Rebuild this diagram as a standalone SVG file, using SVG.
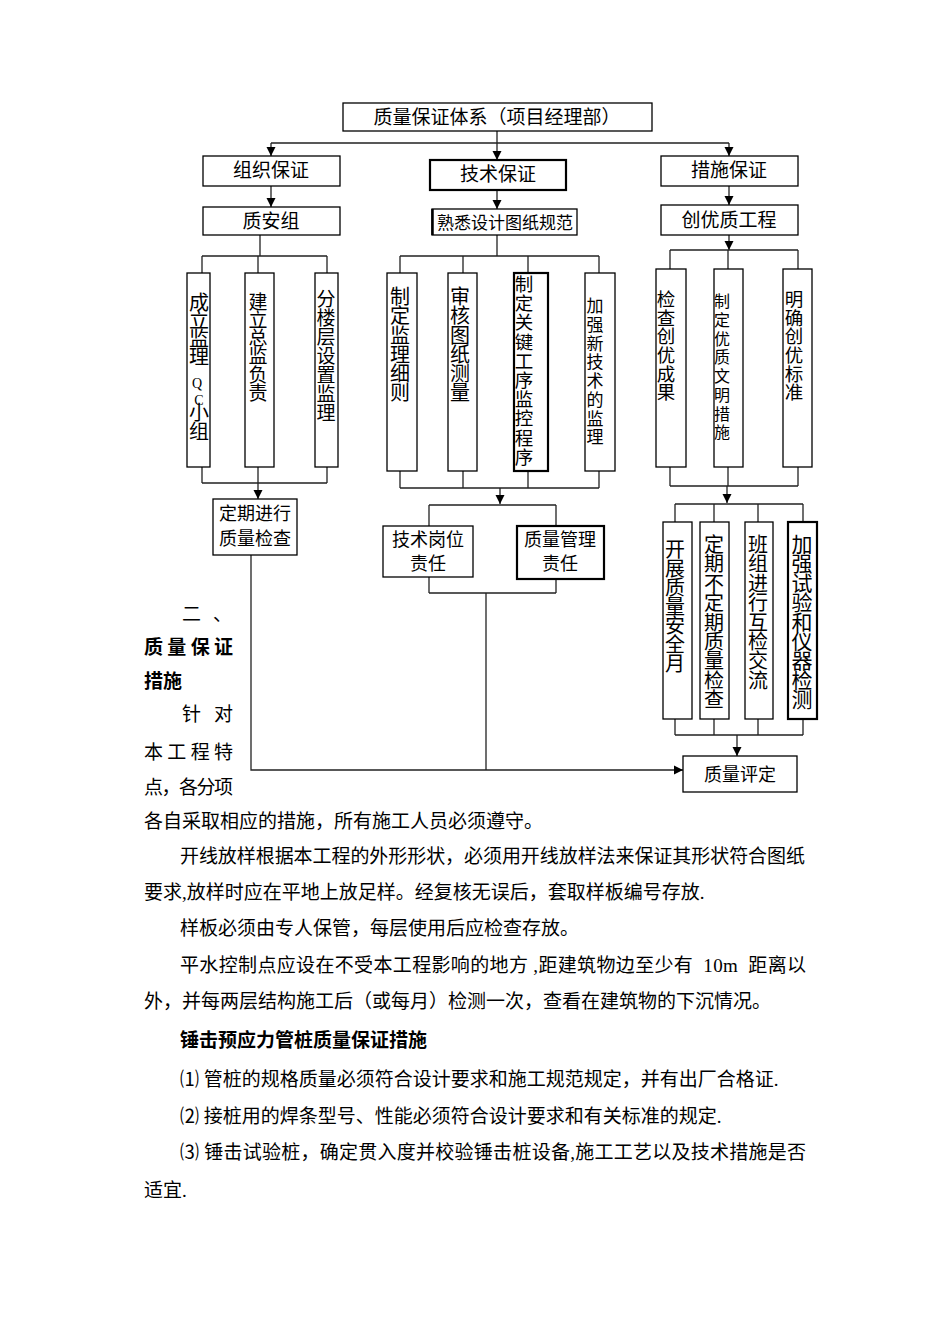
<svg xmlns="http://www.w3.org/2000/svg" width="950" height="1344" viewBox="0 0 950 1344">
<style>
.box{fill:#fff;stroke:#000;stroke-width:1.3}
.thick{fill:#fff;stroke:#000;stroke-width:2.2}
.ln{fill:none;stroke:#222;stroke-width:1.3}
.t{font-family:"Liberation Serif","Noto Sans CJK SC",serif;fill:#000}
.c{text-anchor:middle}
.b{font-weight:bold}
</style>
<defs>
<marker id="ar" markerUnits="userSpaceOnUse" markerWidth="10" markerHeight="10" refX="9" refY="5" orient="auto">
<path d="M0,0.5 L9,5 L0,9.5 Z" fill="#000"/>
</marker>
</defs>
<rect width="950" height="1344" fill="#fff"/>

<g id="connectors">
<path class="ln" d="M497,131 V143 M271,143 H729"/>
<path class="ln" d="M271,143 V156" marker-end="url(#ar)"/>
<path class="ln" d="M497,143 V160" marker-end="url(#ar)"/>
<path class="ln" d="M729,143 V156" marker-end="url(#ar)"/>
<path class="ln" d="M271,186 V207" marker-end="url(#ar)"/>
<path class="ln" d="M497,190 V209" marker-end="url(#ar)"/>
<path class="ln" d="M729,186 V205" marker-end="url(#ar)"/>
<path class="ln" d="M260,235 V256 M202,256 H327 M202,256 V273 M258,256 V273 M327,256 V273"/>
<path class="ln" d="M202,467 V483 M258,467 V483 M327,467 V483 M202,483 H327"/>
<path class="ln" d="M258,483 V499" marker-end="url(#ar)"/>
<path class="ln" d="M497,235 V256 M400,256 H599 M400,256 V273 M463,256 V273 M528,256 V273 M599,256 V273"/>
<path class="ln" d="M400,471 V488 M463,471 V488 M528,471 V488 M599,471 V488 M400,488 H599"/>
<path class="ln" d="M500,488 V504" marker-end="url(#ar)"/>
<path class="ln" d="M429,505 H556 M429,505 V526 M556,505 V526"/>
<path class="ln" d="M429,577 V593 M556,579 V593 M429,593 H556 M486,593 V770"/>
<path class="ln" d="M729,235 V250" marker-end="url(#ar)"/>
<path class="ln" d="M670,250 H798 M670,250 V269 M728,250 V269 M798,250 V269"/>
<path class="ln" d="M670,467 V486 M728,467 V486 M798,467 V486 M670,486 H798"/>
<path class="ln" d="M727,486 V503" marker-end="url(#ar)"/>
<path class="ln" d="M675,504 H803 M675,504 V522 M714,504 V522 M758,504 V522 M803,504 V522"/>
<path class="ln" d="M675,719 V735 M714,719 V735 M758,719 V735 M803,719 V735 M675,735 H803"/>
<path class="ln" d="M737,735 V756" marker-end="url(#ar)"/>
<path class="ln" d="M251,555 V770 H683" marker-end="url(#ar)"/>
</g>

<g id="n-top"><rect class="box" x="343" y="103" width="309" height="28"/><text class="t c" x="497" y="124" font-size="19">质量保证体系（项目经理部）</text></g>
<g id="n-zuzhi"><rect class="box" x="203" y="156" width="137" height="30"/><text class="t c" x="271" y="177" font-size="19">组织保证</text></g>
<g id="n-jishu"><rect class="thick" x="430" y="160" width="136" height="30"/><text class="t c" x="498" y="181" font-size="19">技术保证</text></g>
<g id="n-cuoshi"><rect class="box" x="661" y="156" width="137" height="30"/><text class="t c" x="729" y="177" font-size="19">措施保证</text></g>
<g id="n-zhianzu"><rect class="box" x="203" y="207" width="137" height="28"/><text class="t c" x="271" y="228" font-size="19">质安组</text></g>
<g id="n-shuxi"><rect class="box" x="432" y="209" width="145" height="26"/><path d="M432.5,209 V235" stroke="#000" stroke-width="2.5"/><text class="t c" x="505" y="229" font-size="17">熟悉设计图纸规范</text></g>
<g id="n-chuangyou"><rect class="box" x="661" y="205" width="137" height="30"/><text class="t c" x="729" y="227" font-size="19">创优质工程</text></g>

<g id="n-a1"><rect class="box" x="187" y="273" width="23" height="194"/>
<text class="t c" font-size="20"><tspan x="199" y="310">成</tspan><tspan x="199" y="328">立</tspan><tspan x="199" y="346">监</tspan><tspan x="199" y="364">理</tspan><tspan x="197" y="388" font-size="14">Q</tspan><tspan x="199" y="405" font-size="14">C</tspan><tspan x="199" y="420">小</tspan><tspan x="199" y="439">组</tspan></text></g>
<g id="n-a2"><rect class="box" x="245" y="273" width="29" height="194"/>
<text class="t c" font-size="19"><tspan x="258" y="309">建</tspan><tspan x="258" y="327">立</tspan><tspan x="258" y="345">总</tspan><tspan x="258" y="363">监</tspan><tspan x="258" y="382">负</tspan><tspan x="258" y="400">责</tspan></text></g>
<g id="n-a3"><rect class="box" x="315" y="273" width="23" height="194"/>
<text class="t c" font-size="19"><tspan x="326" y="306">分</tspan><tspan x="326" y="325">楼</tspan><tspan x="326" y="344">层</tspan><tspan x="326" y="363">设</tspan><tspan x="326" y="382">置</tspan><tspan x="326" y="401">监</tspan><tspan x="326" y="420">理</tspan></text></g>

<g id="n-b1"><rect class="box" x="387" y="273" width="30" height="198"/>
<text class="t c" font-size="20"><tspan x="400" y="304">制</tspan><tspan x="400" y="323">定</tspan><tspan x="400" y="343">监</tspan><tspan x="400" y="362">理</tspan><tspan x="400" y="381">细</tspan><tspan x="400" y="400">则</tspan></text></g>
<g id="n-b2"><rect class="box" x="448" y="273" width="29" height="198"/>
<text class="t c" font-size="20"><tspan x="460" y="304">审</tspan><tspan x="460" y="323">核</tspan><tspan x="460" y="343">图</tspan><tspan x="460" y="362">纸</tspan><tspan x="460" y="381">测</tspan><tspan x="460" y="400">量</tspan></text></g>
<g id="n-b3"><rect class="thick" x="514" y="273" width="34" height="198"/>
<text class="t c" font-size="18.5"><tspan x="524" y="291">制</tspan><tspan x="524" y="310">定</tspan><tspan x="524" y="329">关</tspan><tspan x="524" y="349">键</tspan><tspan x="524" y="368">工</tspan><tspan x="524" y="387">序</tspan><tspan x="524" y="406">监</tspan><tspan x="524" y="425">控</tspan><tspan x="524" y="445">程</tspan><tspan x="524" y="464">序</tspan></text></g>
<g id="n-b4"><rect class="box" x="585" y="273" width="30" height="198"/>
<text class="t c" font-size="17"><tspan x="595" y="312">加</tspan><tspan x="595" y="331">强</tspan><tspan x="595" y="350">新</tspan><tspan x="595" y="368">技</tspan><tspan x="595" y="387">术</tspan><tspan x="595" y="406">的</tspan><tspan x="595" y="425">监</tspan><tspan x="595" y="443">理</tspan></text></g>

<g id="n-c1"><rect class="box" x="656" y="269" width="30" height="198"/>
<text class="t c" font-size="18.5"><tspan x="666" y="306">检</tspan><tspan x="666" y="325">查</tspan><tspan x="666" y="343">创</tspan><tspan x="666" y="362">优</tspan><tspan x="666" y="381">成</tspan><tspan x="666" y="399">果</tspan></text></g>
<g id="n-c2"><rect class="box" x="714" y="269" width="29" height="198"/>
<text class="t c" font-size="16"><tspan x="722" y="307">制</tspan><tspan x="722" y="326">定</tspan><tspan x="722" y="345">优</tspan><tspan x="722" y="363">质</tspan><tspan x="722" y="382">文</tspan><tspan x="722" y="401">明</tspan><tspan x="722" y="420">措</tspan><tspan x="722" y="438">施</tspan></text></g>
<g id="n-c3"><rect class="box" x="783" y="269" width="29" height="198"/>
<text class="t c" font-size="18.5"><tspan x="794" y="306">明</tspan><tspan x="794" y="325">确</tspan><tspan x="794" y="343">创</tspan><tspan x="794" y="362">优</tspan><tspan x="794" y="381">标</tspan><tspan x="794" y="399">准</tspan></text></g>

<g id="n-d1"><rect class="box" x="663" y="522" width="29" height="197"/>
<text class="t c" font-size="20"><tspan x="675" y="557">开</tspan><tspan x="675" y="576">展</tspan><tspan x="675" y="595">质</tspan><tspan x="675" y="614">量</tspan><tspan x="675" y="633">安</tspan><tspan x="675" y="652">全</tspan><tspan x="675" y="671">月</tspan></text></g>
<g id="n-d2"><rect class="box" x="700" y="522" width="29" height="197"/>
<text class="t c" font-size="20"><tspan x="714" y="552">定</tspan><tspan x="714" y="571">期</tspan><tspan x="714" y="591">不</tspan><tspan x="714" y="610">定</tspan><tspan x="714" y="630">期</tspan><tspan x="714" y="649">质</tspan><tspan x="714" y="668">量</tspan><tspan x="714" y="688">检</tspan><tspan x="714" y="707">查</tspan></text></g>
<g id="n-d3"><rect class="box" x="745" y="522" width="28" height="197"/>
<text class="t c" font-size="20"><tspan x="758" y="552">班</tspan><tspan x="758" y="571">组</tspan><tspan x="758" y="591">进</tspan><tspan x="758" y="610">行</tspan><tspan x="758" y="630">互</tspan><tspan x="758" y="649">检</tspan><tspan x="758" y="668">交</tspan><tspan x="758" y="688">流</tspan></text></g>
<g id="n-d4"><rect class="thick" x="788" y="522" width="29" height="197"/>
<text class="t c" font-size="21"><tspan x="802" y="552">加</tspan><tspan x="802" y="571">强</tspan><tspan x="802" y="591">试</tspan><tspan x="802" y="610">验</tspan><tspan x="802" y="630">和</tspan><tspan x="802" y="649">仪</tspan><tspan x="802" y="668">器</tspan><tspan x="802" y="688">检</tspan><tspan x="802" y="707">测</tspan></text></g>

<g id="n-dingqi"><rect class="box" x="213" y="499" width="84" height="56" stroke-width="1.6"/><text class="t c" font-size="18"><tspan x="255" y="520">定期进行</tspan><tspan x="255" y="545">质量检查</tspan></text></g>
<g id="n-gangwei"><rect class="box" x="383" y="526" width="90" height="51"/><text class="t c" font-size="18"><tspan x="428" y="546">技术岗位</tspan><tspan x="428" y="570">责任</tspan></text></g>
<g id="n-guanli"><rect class="thick" x="517" y="526" width="87" height="53"/><text class="t c" font-size="18"><tspan x="560" y="546">质量管理</tspan><tspan x="560" y="570">责任</tspan></text></g>
<g id="n-pingding"><rect class="box" x="683" y="756" width="114" height="36" stroke-width="1.6"/><text class="t c" x="740" y="781" font-size="18">质量评定</text></g>

<g id="body" class="t" font-size="19">
<text x="182" y="621">二<tspan x="213">、</tspan></text>
<text x="144" y="654" class="b" textLength="89" lengthAdjust="spacing">质 量 保 证</text>
<text x="144" y="688" class="b">措施</text>
<text x="182" y="721">针<tspan x="214">对</tspan></text>
<text x="144" y="759" textLength="89" lengthAdjust="spacing">本 工 程 特</text>
<text x="144" y="794" textLength="89" lengthAdjust="spacing">点，各分项</text>
<text x="144" y="828">各自采取相应的措施，所有施工人员必须遵守。</text>
<text x="180" y="863" textLength="625" lengthAdjust="spacing">开线放样根据本工程的外形形状，必须用开线放样法来保证其形状符合图纸</text>
<text x="144" y="899">要求,放样时应在平地上放足样。经复核无误后，套取样板编号存放.</text>
<text x="180" y="935">样板必须由专人保管，每层使用后应检查存放。</text>
<text x="180" y="972" textLength="626" lengthAdjust="spacing" xml:space="preserve">平水控制点应设在不受本工程影响的地方 ,距建筑物边至少有  10m  距离以</text>
<text x="144" y="1008">外，并每两层结构施工后（或每月）检测一次，查看在建筑物的下沉情况。</text>
<text x="180" y="1047" class="b">锤击预应力管桩质量保证措施</text>
<text x="180" y="1086">⑴ 管桩的规格质量必须符合设计要求和施工规范规定，并有出厂合格证.</text>
<text x="180" y="1123">⑵ 接桩用的焊条型号、性能必须符合设计要求和有关标准的规定.</text>
<text x="180" y="1159" textLength="626" lengthAdjust="spacing">⑶ 锤击试验桩，确定贯入度并校验锤击桩设备,施工工艺以及技术措施是否</text>
<text x="144" y="1197">适宜.</text>
</g>
</svg>
